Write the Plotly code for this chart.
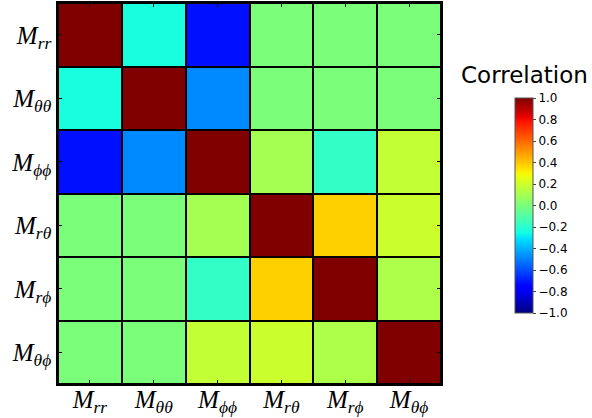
import numpy as np
import plotly.graph_objects as go

labels = ["<i>M</i><sub><i>rr</i></sub>", "<i>M</i><sub><i>θθ</i></sub>", "<i>M</i><sub><i>ϕϕ</i></sub>",
          "<i>M</i><sub><i>rθ</i></sub>", "<i>M</i><sub><i>rϕ</i></sub>", "<i>M</i><sub><i>θϕ</i></sub>"]
corr = [
    [1.00, -0.24, -0.72, 0.00, 0.00, 0.00],
    [-0.24, 1.00, -0.48, 0.00, 0.00, 0.00],
    [-0.72, -0.48, 1.00, 0.10, -0.18, 0.17],
    [0.00, 0.00, 0.10, 1.00, 0.38, 0.19],
    [0.00, 0.00, -0.18, 0.38, 1.00, 0.12],
    [0.00, 0.00, 0.17, 0.19, 0.12, 1.00],
]
cbar_ticks = [-1.0, -0.8, -0.6, -0.4, -0.2, 0.0, 0.2, 0.4, 0.6, 0.8, 1.0]

# matplotlib "jet" colormap
seg = {
    "r": [(0, 0), (0.35, 0), (0.66, 1), (0.89, 1), (1, 0.5)],
    "g": [(0, 0), (0.125, 0), (0.375, 1), (0.64, 1), (0.91, 0), (1, 0)],
    "b": [(0, 0.5), (0.11, 1), (0.34, 1), (0.65, 0), (1, 0)],
}
def chan(pts, t):
    xs = [p[0] for p in pts]; ys = [p[1] for p in pts]
    return float(np.interp(t, xs, ys))
jet = []
for t in np.linspace(0, 1, 65):
    r, g, b = (int(round(255 * chan(seg[c], t))) for c in "rgb")
    jet.append([float(t), f"rgb({r},{g},{b})"])

fig = go.Figure(go.Heatmap(
    z=corr, x=labels, y=labels, zmin=-1, zmax=1, colorscale=jet,
    xgap=2, ygap=2,
    colorbar=dict(
        x=1.193, xanchor="left", xref="paper", xpad=0, ypad=0,
        thickness=18, thicknessmode="pixels",
        len=0.564, lenmode="fraction", y=0.468, yanchor="middle",
        tickvals=cbar_ticks, tickformat=".1f", ticks="outside", ticklen=3,
        tickfont=dict(family="DejaVu Sans", size=12, color="black"),
        outlinewidth=1, outlinecolor="#555555",
    ),
))
fig.update_layout(
    width=592, height=418,
    margin=dict(l=58, r=151, t=3, b=34, autoexpand=False),
    paper_bgcolor="white", plot_bgcolor="black",
    font=dict(color="black"),
    annotations=[dict(text="Correlation", x=1.217, y=0.811, xref="paper", yref="paper",
                      showarrow=False, xanchor="center", yanchor="middle",
                      font=dict(family="DejaVu Sans", size=23, color="black"))],
)
axis_common = dict(showgrid=False, zeroline=False, showline=True, linecolor="black", linewidth=1.5,
                   mirror="allticks", ticks="inside", ticklen=4, tickcolor="black", automargin=False,
                   tickfont=dict(family="Liberation Serif", size=25, color="black"))
fig.update_xaxes(ticklabelstandoff=-8, **axis_common)
fig.update_yaxes(autorange="reversed", ticklabelstandoff=0, **axis_common)
fig.write_html("out.html", config={"displayModeBar": False},
               post_script="document.body.style.margin='0px';")
